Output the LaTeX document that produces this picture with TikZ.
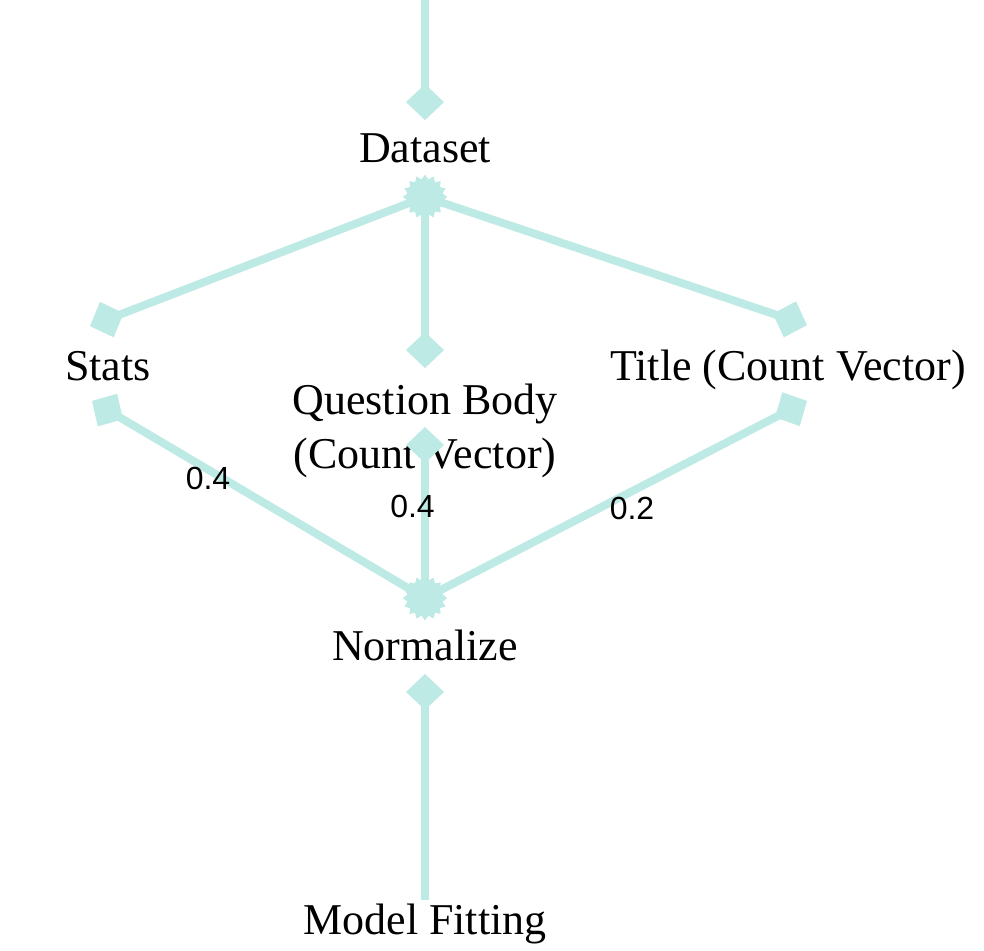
\documentclass[tikz,border=0pt]{standalone}
\usepackage{fontspec}
\setmainfont{Liberation Serif}
\newfontfamily\weightfont{Liberation Sans}
\usetikzlibrary{arrows.meta,shapes.geometric,positioning}
\definecolor{tealedge}{RGB}{189,234,228}

\begin{document}
\begin{tikzpicture}[x=0.5pt,y=-0.5pt,line cap=butt,line join=miter,
  txt/.style={inner sep=0pt,outer ysep=6pt,font=\fontsize{22}{27}\selectfont,align=center},
  onerow/.style={txt,text height=15pt,text depth=4.4pt},
  edge/.style={draw=tealedge,line width=4pt,-{Turned Square[length=18pt,width=19pt,line width=0pt,fill=tealedge]}},
  junction/.style={star,star points=16,star point ratio=1.25,fill=tealedge,draw=none,inner sep=0pt,outer sep=0pt,minimum size=22pt},
  weight/.style={font=\weightfont\fontsize{16}{19}\selectfont,inner sep=0pt}]
\useasboundingbox (0,0) rectangle (984,950);

\coordinate (feed) at (425,0);
\node[onerow] (dataset) at (425,151.5) {Dataset};
\node[onerow] (stats) at (108,369.5) {Stats};
\node[txt] (qbody) at (425,431) {Question Body\\(Count Vector)};
\node[onerow] (title) at (788,369.5) {Title (Count Vector)};
\node[onerow] (normalize) at (425,649.5) {Normalize};
\node[onerow] (fitting) at (425,923.5) {Model Fitting};

\node[junction,below=-4pt of dataset] (dsplit) {};
\node[junction,above=-1pt of normalize] (nmerge) {};

\draw[edge] (feed) -- (dataset.north);
\draw[edge] (dsplit.center) -- ([xshift=-9pt,yshift=6pt]stats.north);
\draw[edge] (dsplit.center) -- ([yshift=2pt]qbody.north);
\draw[edge] (dsplit.center) -- ([xshift=9.5pt,yshift=6.5pt]title.north);

\draw[edge] (nmerge.center) -- ([xshift=-8pt]stats.south);
\draw[edge] (nmerge.center) -- ([yshift=2pt]qbody.center);
\draw[edge] (nmerge.center) -- ([xshift=9.5pt]title.south);
\draw[edge] ([yshift=-4pt]fitting.north) -- ([yshift=3.5pt]normalize.south);

\node[junction] at (dsplit) {};
\node[junction] at (nmerge) {};

\node[weight] (w1) at (208,478) {0.4};
\node[weight] (w2) at (412.5,506) {0.4};
\node[weight] (w3) at (632,508) {0.2};
\end{tikzpicture}
\end{document}
